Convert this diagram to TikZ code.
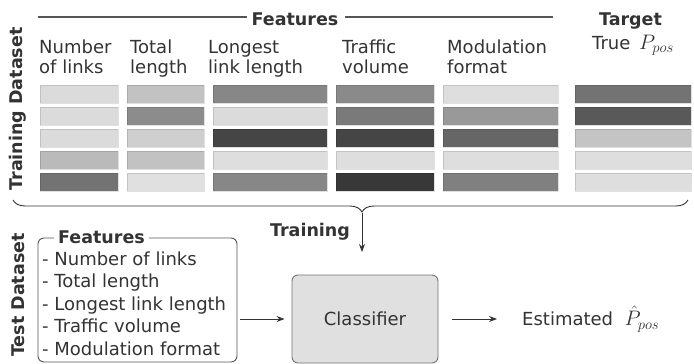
\RequirePackage{fix-cm}
\documentclass[tikz,border=0pt]{standalone}
\usepackage{fontspec}
\setmainfont{DejaVu Sans}
\usetikzlibrary{decorations.pathreplacing,arrows.meta,calc}
\definecolor{txt}{HTML}{333333}
\definecolor{lin}{HTML}{555555}
\newcommand{\bigmath}[1]{{\fontsize{21}{24}\selectfont$#1$}}
\begin{document}
\begin{tikzpicture}[x=1pt,y=-1pt,
 lab/.style={font=\fontsize{17.5}{21}\selectfont\bfseries, text=txt, inner sep=0pt},
 hdr/.style={font=\fontsize{18}{20.5}\selectfont, text=txt, inner sep=0pt, align=left, anchor=base west},
 bar/.style={draw=black, draw opacity=0.12, line width=0.6pt},
 arr/.style={draw=txt, line width=0.9pt, -{Stealth[length=8pt,width=6pt]}},
]
\useasboundingbox (0,0) rectangle (694,364);
% side labels
\node[lab, rotate=90] (trainlab) at (18,109) {Training Dataset};
\node[lab, rotate=90] (testlab) at (18,295) {Test Dataset};
% top header
\node[lab, anchor=base] (feat) at (295,25) {Features};
\draw[lin, line width=1.2pt] (38,17) -- (247,17);
\draw[lin, line width=1.2pt] (345,17) -- (553,17);
\node[lab, anchor=base] (target) at (630.5,25) {Target};
\node[hdr] (truep) at (592,49) {True \,\bigmath{P_{pos}}};
% column headers (base = baseline of last line)
\node[hdr] (h1) at (39,73.5) {Number\\of links};
\node[hdr] (h2) at (130,73.5) {Total\\length};
\node[hdr] (h3) at (208,73.5) {Longest\\link length};
\node[hdr] (h4) at (342,73.5) {Traffic\\volume};
\node[hdr] (h5) at (447,73.5) {Modulation\\format};
% bars
\foreach \xa/\xb/\vals in {40/118/{14,14,14,27,55},127/204/{24,45,19,24,12},213/327/{47,14,73,13,47},336/434/{46,52,73,13,78},443/558/{13,40,60,13,50},575/691/{55,65,23,13,13}}{
  \foreach \v [count=\r from 0] in \vals {
    \filldraw[bar, fill=black!\v] (\xa,{85+22*\r}) rectangle (\xb,{103+22*\r});
  }
}
% brace and training arrow
\draw[txt, line width=0.9pt, decorate, decoration={brace, mirror, amplitude=12pt, aspect=0.517}] (13,200) -- (688,200);
\coordinate (tip) at (362,213);
\coordinate (arrend) at (362,252);
\draw[arr] (tip) -- (arrend);
\node[lab] (training) at (310,232) {Training};
% test box
\node[draw=lin, rounded corners=6pt, line width=0.9pt, minimum width=199pt, minimum height=124pt, inner sep=0pt] (testbox) at (137.5,300) {};
\node[lab, fill=white, inner xsep=4pt, anchor=base west] (testfeat) at (54,243) {Features};
\node[hdr, font=\fontsize{18}{22.5}\selectfont] (items) at (42,355) {- Number of links\\- Total length\\- Longest link length\\- Traffic volume\\- Modulation format};
% classifier
\node[draw=black!55, fill=black!12, rounded corners=6pt, line width=0.9pt, minimum width=146pt, minimum height=88pt, font=\fontsize{18}{20}\selectfont, text=txt] (cls) at (365,319) {Classifier};
\node[hdr, anchor=west] (est) at (522,319) {Estimated \ \bigmath{\hat{P}_{pos}}};
\draw[arr] ($(testbox.east)+(3,19)$) -- ($(cls.west)+(-7,0)$);
\draw[arr] ($(cls.east)+(14,0)$) -- ($(est.west)+(-25,0)$);
\end{tikzpicture}
\end{document}
